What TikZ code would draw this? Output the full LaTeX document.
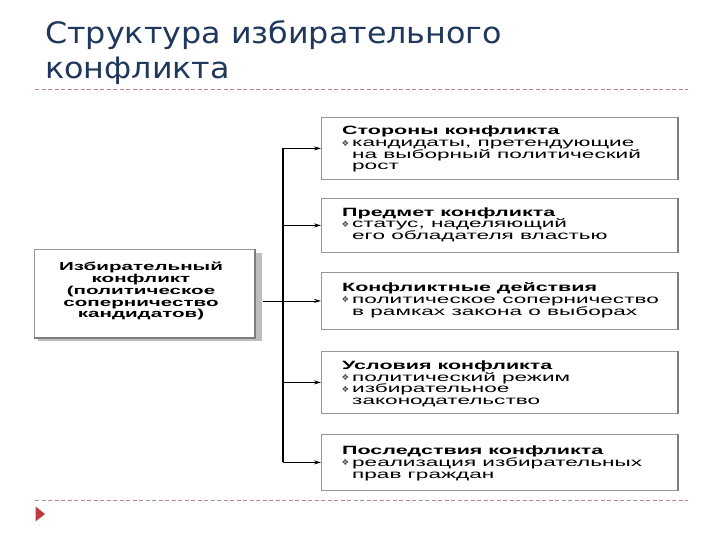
\documentclass[tikz,border=0pt]{standalone}
\usepackage{fontspec}
\setmainfont{Liberation Sans}
\newfontfamily\titlefont[FakeStretch=1.077]{DejaVu Sans}
\newfontfamily\boxreg[FakeStretch=1.88]{Liberation Sans}
\newfontfamily\boxbold[FakeStretch=1.79]{Liberation Sans Bold}
\newfontfamily\symfont{DejaVu Sans}
\usetikzlibrary{arrows.meta}
\definecolor{titleblue}{RGB}{31,56,92}
\definecolor{dashcol}{RGB}{185,135,135}
\definecolor{tricol}{RGB}{192,60,60}
\definecolor{boxline}{RGB}{150,150,150}
\definecolor{edgegray}{RGB}{125,125,125}
\definecolor{shadowgray}{RGB}{190,190,190}
\tikzset{
  ttl/.style={font=\titlefont\fontsize{29.5}{35}\selectfont, text=titleblue, anchor=base west, inner sep=0pt},
  bxtitle/.style={font=\boxbold\fontsize{12}{12}\selectfont, anchor=base west, inner sep=0pt},
  bxitem/.style={font=\boxreg\fontsize{12}{12}\selectfont, anchor=base west, inner sep=0pt},
  lbtext/.style={font=\boxbold\fontsize{11.5}{12}\selectfont, anchor=base, inner sep=0pt},
  bul/.style={font=\symfont\fontsize{8.5}{9}\selectfont, text=black!70, anchor=base west, inner sep=0pt},
  rbox/.style={draw=boxline, line width=0.8pt, fill=white, anchor=north west, inner sep=0pt, minimum width=356pt},
  lbox/.style={draw=boxline, line width=0.8pt, fill=white, anchor=north west, inner sep=0pt, minimum width=220pt, minimum height=88pt},
  sepline/.style={draw=dashcol, line width=0.8pt, dash pattern=on 4pt off 2.5pt},
  branch/.style={draw=black, line width=0.8pt, -{Stealth[length=7pt,width=4pt]}},
  trunkline/.style={draw=black, line width=1.8pt},
}
\begin{document}
\begin{tikzpicture}[x=1pt,y=1pt]
\useasboundingbox[fill=white] (0,0) rectangle (720,-540);

% title
\node[ttl] (t1) at (45,-43.5) {Структура избирательного};
\node[ttl] (t2) at (45,-79) {конфликта};

% separators
\coordinate (s1a) at (35,-89);
\coordinate (s1b) at (688,-89);
\coordinate (s2a) at (35,-500);
\coordinate (s2b) at (688,-500);
\draw[sepline] (s1a) -- (s1b);
\draw[sepline] (s2a) -- (s2b);

% bullet triangle
\coordinate (tra) at (35.5,-506.5);
\coordinate (trb) at (45,-514);
\coordinate (trc) at (35.5,-521.5);
\fill[tricol] (tra) -- (trb) -- (trc) -- cycle;

% left box with shadow
\fill[shadowgray] (38,-253) rectangle (261.5,-340.5);
\node[lbox] (L) at (34,-249) {};
\draw[edgegray, line width=2.2pt] (L.north east) -- (L.south east) -- (L.south west);
\node[lbtext] (l1) at (141,-270.7) {Избирательный};
\node[lbtext] (l2) at (141,-282.5) {конфликт};
\node[lbtext] (l3) at (141,-294.3) {(политическое};
\node[lbtext] (l4) at (141,-306) {соперничество};
\node[lbtext] (l5) at (141,-317.5) {кандидатов)};

% right boxes
\node[rbox, minimum height=62pt] (B1) at (321,-117) {};
\node[rbox, minimum height=54pt] (B2) at (321,-198) {};
\node[rbox, minimum height=57pt] (B3) at (321,-272) {};
\node[rbox, minimum height=62pt] (B4) at (321,-351) {};
\node[rbox, minimum height=56pt] (B5) at (321,-434) {};
\foreach \b in {B1,B2,B3,B4,B5}{
  \draw[edgegray, line width=2.2pt] (\b.north east) -- (\b.south east);
}

% box 1
\node[bxtitle] (b1t) at (342,-135) {Стороны конфликта};
\node[bul] (b1p) at (341.5,-146.5) {❖};
\node[bxitem] (b1a) at (352,-147) {кандидаты, претендующие};
\node[bxitem] (b1b) at (352,-158.5) {на выборный политический};
\node[bxitem] (b1c) at (352,-170) {рост};
% box 2
\node[bxtitle] (b2t) at (342,-216.5) {Предмет конфликта};
\node[bul] (b2p) at (341.5,-227.5) {❖};
\node[bxitem] (b2a) at (352,-228) {статус, наделяющий};
\node[bxitem] (b2b) at (352,-239.5) {его обладателя властью};
% box 3
\node[bxtitle] (b3t) at (342,-291.7) {Конфликтные действия};
\node[bul] (b3p) at (341.5,-302.8) {❖};
\node[bxitem] (b3a) at (352,-303.3) {политическое соперничество};
\node[bxitem] (b3b) at (352,-315) {в рамках закона о выборах};
% box 4
\node[bxtitle] (b4t) at (342,-369.3) {Условия конфликта};
\node[bul] (b4p) at (341.5,-380.8) {❖};
\node[bxitem] (b4a) at (352,-381.3) {политический режим};
\node[bul] (b4q) at (341.5,-392.3) {❖};
\node[bxitem] (b4b) at (352,-392.8) {избирательное};
\node[bxitem] (b4c) at (352,-404.3) {законодательство};
% box 5
\node[bxtitle] (b5t) at (342,-454) {Последствия конфликта};
\node[bul] (b5p) at (341.5,-465.5) {❖};
\node[bxitem] (b5a) at (352,-466) {реализация избирательных};
\node[bxitem] (b5b) at (352,-478.3) {прав граждан};

% connectors
\coordinate (T) at (283,-301.7);
\draw[trunkline] (B1.west -| T) -- (B5.west -| T);
\draw[draw=black, line width=0.8pt] ([xshift=8pt]L.east |- T) -- (T);
\foreach \b in {B1,B2,B3,B4,B5}{
  \draw[branch] (\b.west -| T) -- (\b.west);
}
\end{tikzpicture}
\end{document}
